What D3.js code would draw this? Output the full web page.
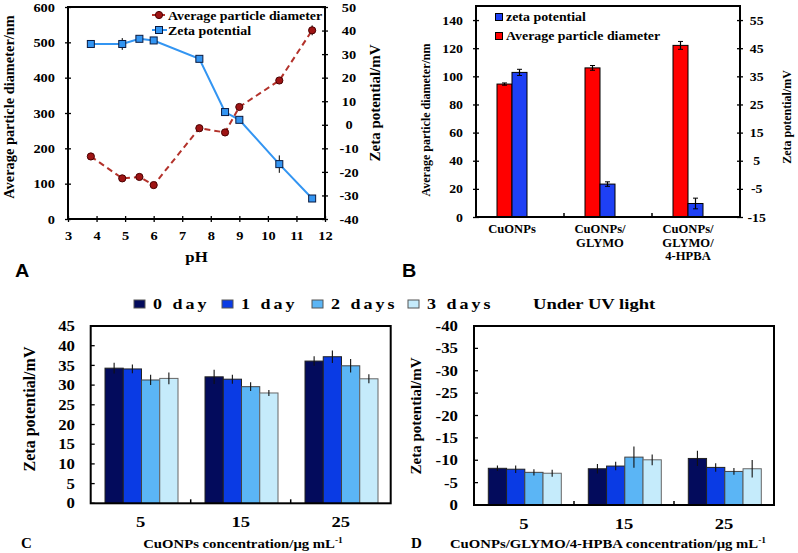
<!DOCTYPE html>
<html><head><meta charset="utf-8">
<script src="https://cdn.jsdelivr.net/npm/d3@7"></script>
<style>
body{margin:0;background:#fff}
svg{display:block}
text{font-family:"Liberation Serif","Times New Roman",serif;font-weight:bold;fill:#000}
</style></head><body>
<svg id="c" width="798" height="553"></svg>
<script>
// ---------- DATA ----------
// Panel A
const pH = [3.8, 4.9, 5.5, 6.0, 7.6, 8.5, 9.0, 10.4, 11.55];
const diameterA = [177, 115, 119, 96, 257, 245, 317, 392, 534];
const diameterErrA = [0, 0, 0, 0, 0, 0, 0, 0, 14];
const zetaA = [34.3, 34.3, 36.5, 35.8, 28, 5.4, 2.1, -16.7, -31.3];
const zetaErrA = [0, 2.5, 0, 0, 0, 0, 0, 3.7, 0];
const ticksApH = [3, 4, 5, 6, 7, 8, 9, 10, 11, 12];
const ticksAL = [0, 100, 200, 300, 400, 500, 600];
const ticksAR = [-40, -30, -20, -10, 0, 10, 20, 30, 40, 50];
const legendA = ["Average particle diameter", "Zeta potential"];
// Panel B
const samplesB = [["CuONPs"], ["CuONPs/", "GLYMO"], ["CuONPs/", "GLYMO/", "4-HPBA"]];
const diameterB = [94.5, 106, 122];
const diameterErrB = [0.8, 1.7, 2.8];
const zetaB = [36.4, -3.3, -10.2];
const zetaErrB = [1.1, 0.8, 1.9];
const ticksBL = [0, 20, 40, 60, 80, 100, 120, 140];
const ticksBR = [-15, -5, 5, 15, 25, 35, 45, 55];
const legendB = ["zeta potential", "Average particle diameter"];
// Panels C and D
const concentrations = ["5", "15", "25"];
const dayLabels = ["0 day", "1 day", "2 days", "3 days"];
const zetaC = [[34.3, 34.1, 31.3, 31.7], [32.1, 31.5, 29.6, 28.0], [36.1, 37.2, 34.9, 31.6]];
const zetaErrC = [[1.35, 1.1, 1.3, 1.5], [1.8, 1.15, 1.1, 0.75], [1.2, 1.6, 1.7, 1.15]];
const zetaD = [[-8.2, -8.0, -7.3, -7.1], [-8.1, -8.7, -10.7, -10.1], [-10.4, -8.4, -7.5, -8.1]];
const zetaErrD = [[0.6, 0.85, 0.7, 0.8], [1.05, 0.95, 2.4, 1.2], [1.7, 0.95, 0.75, 1.95]];
const ticksC = [0, 5, 10, 15, 20, 25, 30, 35, 40, 45];
const ticksD = [0, -5, -10, -15, -20, -25, -30, -35, -40];

// ---------- STYLE ----------
const SX = 1.2;
const blueA = "#3395f2", redA = "#b3322b", redDot = "#9e1414";
const redB = "#ff0000", blueB = "#1e40f5";
const dayColors = ["#030b5c", "#0a3be4", "#5bb5f5", "#c5ebfb"];
const dayStroke = ["#222", "#222", "#444", "#666"];
const svg = d3.select("#c");
const fmt = d => String(d);

function label(g, x, y, str, o = {}) {
  const t = g.append("text")
    .attr("transform", `translate(${x},${y}) scale(${o.sx ?? SX},1)`)
    .attr("text-anchor", o.anchor || "start")
    .style("font-size", (o.size || 12) + "px")
    .text(str);
  if (o.family) t.style("font-family", o.family);
  if (o.ls) t.style("letter-spacing", o.ls + "px");
  return t;
}
function vlabel(g, x, y, str, size) {
  return g.append("text")
    .attr("transform", `translate(${x},${y}) rotate(-90)`)
    .attr("text-anchor", "middle")
    .style("font-size", size + "px")
    .text(str);
}
function styleTicks(g, dx, dy, anchor, size, x1) {
  g.select(".domain").remove();
  g.selectAll(".tick line").attr("stroke", "#000").attr("stroke-width", 1.3);
  if (x1 !== undefined) g.selectAll(".tick line").attr(x1[0], x1[1]);
  g.selectAll(".tick text")
    .attr("x", null).attr("y", null).attr("dy", null)
    .attr("transform", `translate(${dx},${dy}) scale(${SX},1)`)
    .attr("text-anchor", anchor)
    .style("font-size", size + "px")
    .style("font-family", '"Liberation Serif","Times New Roman",serif')
    .style("font-weight", "bold")
    .attr("fill", "#000");
}
function frame(l, t, r, b) {
  svg.append("rect").attr("x", l).attr("y", t).attr("width", r - l).attr("height", b - t)
    .attr("fill", "none").attr("stroke", "#000").attr("stroke-width", 2);
}

// ---------- PANEL A ----------
{
  const L = 68, R = 325, T = 7, B = 219;
  const x = d3.scaleLinear().domain([3, 12]).range([L, R]);
  const yL = d3.scaleLinear().domain([0, 600]).range([B, T]);
  const yR = d3.scaleLinear().domain([-40, 50]).range([B, T]);
  const g = svg.append("g");

  const gl = g.append("g").attr("transform", `translate(${L},0)`)
    .call(d3.axisLeft(yL).tickValues(ticksAL).tickFormat(fmt).tickSize(3).tickSizeOuter(0));
  styleTicks(gl, -13, 4.2, "end", 12, ["x1", 3]);
  const gr = g.append("g").attr("transform", `translate(${R},0)`)
    .call(d3.axisRight(yR).tickValues(ticksAR).tickFormat(fmt).tickSize(3).tickSizeOuter(0));
  styleTicks(gr, 24, 4.2, "middle", 12, ["x1", -3]);
  const gb = g.append("g").attr("transform", `translate(0,${B})`)
    .call(d3.axisBottom(x).tickValues(ticksApH).tickFormat(fmt).tickSize(3).tickSizeOuter(0));
  styleTicks(gb, 0, 21, "middle", 12, ["y1", -3]);
  frame(L, T, R, B);

  const pts = pH.map((p, i) => ({p, d: diameterA[i], de: diameterErrA[i], z: zetaA[i], ze: zetaErrA[i]}));
  g.append("path").datum(pts).attr("fill", "none").attr("stroke", blueA).attr("stroke-width", 2)
    .attr("d", d3.line().x(d => x(d.p)).y(d => yR(d.z)));
  g.append("path").datum(pts).attr("fill", "none").attr("stroke", redA).attr("stroke-width", 2)
    .attr("stroke-dasharray", "6,4")
    .attr("d", d3.line().x(d => x(d.p)).y(d => yL(d.d)));
  g.selectAll(".ez").data(pts.filter(d => d.ze > 0)).join("line")
    .attr("x1", d => x(d.p)).attr("x2", d => x(d.p))
    .attr("y1", d => yR(d.z - d.ze)).attr("y2", d => yR(d.z + d.ze))
    .attr("stroke", "#000").attr("stroke-width", 1);
  g.selectAll(".ed").data(pts.filter(d => d.de > 0)).join("line")
    .attr("x1", d => x(d.p)).attr("x2", d => x(d.p))
    .attr("y1", d => yL(d.d - d.de)).attr("y2", d => yL(d.d + d.de))
    .attr("stroke", "#000").attr("stroke-width", 1);
  g.selectAll(".sq").data(pts).join("rect")
    .attr("x", d => x(d.p) - 3.5).attr("y", d => yR(d.z) - 3.5).attr("width", 7).attr("height", 7)
    .attr("fill", blueA).attr("stroke", "#0a1a40").attr("stroke-width", 1);
  g.selectAll(".ci").data(pts).join("circle")
    .attr("cx", d => x(d.p)).attr("cy", d => yL(d.d)).attr("r", 3.6)
    .attr("fill", redDot).attr("stroke", "#4a0000").attr("stroke-width", 1);

  // legend
  g.append("line").attr("x1", 152).attr("x2", 167).attr("y1", 15).attr("y2", 15)
    .attr("stroke", redA).attr("stroke-width", 2).attr("stroke-dasharray", "5,3");
  g.append("circle").attr("cx", 159).attr("cy", 15).attr("r", 3.6).attr("fill", redDot).attr("stroke", "#4a0000");
  label(g, 168, 19.5, legendA[0], {size: 11.6});
  g.append("line").attr("x1", 152).attr("x2", 167).attr("y1", 30).attr("y2", 30)
    .attr("stroke", blueA).attr("stroke-width", 2);
  g.append("rect").attr("x", 155.5).attr("y", 26.5).attr("width", 7).attr("height", 7)
    .attr("fill", blueA).attr("stroke", "#0a1a40");
  label(g, 168, 34.5, legendA[1], {size: 11.6});

  vlabel(g, 14, 107, "Average particle diameter/nm", 14.4);
  vlabel(g, 380, 103, "Zeta potential/mV", 15);
  label(g, 196.5, 262, "pH", {size: 14, anchor: "middle"});
  label(g, 15, 276.5, "A", {size: 18, sx: 1.1, family: '"Liberation Sans",Arial,sans-serif'});
}

// ---------- PANEL B ----------
{
  const L = 476, R = 740, T = 6, B = 217;
  const x = d3.scaleBand().domain(d3.range(samplesB.length)).range([L, R]);
  const xs = d3.scaleBand().domain(["d", "z"]).range([21, 51]);
  const yL = d3.scaleLinear().domain([0, 150]).range([B, T]);
  const yR = d3.scaleLinear().domain([-15, 60]).range([B, T]);
  const g = svg.append("g");

  const gl = g.append("g").attr("transform", `translate(${L},0)`)
    .call(d3.axisLeft(yL).tickValues(ticksBL).tickFormat(fmt).tickSize(3).tickSizeOuter(0));
  styleTicks(gl, -13, 4, "end", 11.5, ["x1", 3]);
  const gr = g.append("g").attr("transform", `translate(${R},0)`)
    .call(d3.axisRight(yR).tickValues(ticksBR).tickFormat(fmt).tickSize(3).tickSizeOuter(0));
  styleTicks(gr, 16.7, 4, "middle", 11.5, ["x1", -3]);

  const data = samplesB.map((s, i) => ({i, s, d: diameterB[i], de: diameterErrB[i], z: zetaB[i], ze: zetaErrB[i]}));
  g.selectAll(".bd").data(data).join("rect")
    .attr("x", d => x(d.i) + xs("d")).attr("width", xs.bandwidth())
    .attr("y", d => yL(d.d)).attr("height", d => yL(0) - yL(d.d))
    .attr("fill", redB).attr("stroke", "#000").attr("stroke-width", 1);
  g.selectAll(".bz").data(data).join("rect")
    .attr("x", d => x(d.i) + xs("z")).attr("width", xs.bandwidth())
    .attr("y", d => yR(d.z)).attr("height", d => yR(-15) - yR(d.z))
    .attr("fill", blueB).attr("stroke", "#000").attr("stroke-width", 1);
  const eb = (cx, y1, y2) => {
    g.append("line").attr("x1", cx).attr("x2", cx).attr("y1", y1).attr("y2", y2).attr("stroke", "#000").attr("stroke-width", 1.2);
    [y1, y2].forEach(yy => g.append("line").attr("x1", cx - 2.5).attr("x2", cx + 2.5).attr("y1", yy).attr("y2", yy).attr("stroke", "#000").attr("stroke-width", 1));
  };
  data.forEach(d => {
    eb(x(d.i) + xs("d") + xs.bandwidth() / 2, yL(d.d - d.de), yL(d.d + d.de));
    eb(x(d.i) + xs("z") + xs.bandwidth() / 2, yR(d.z - d.ze), yR(d.z + d.ze));
  });
  g.selectAll(".bt").data(d3.range(1, samplesB.length)).join("line")
    .attr("x1", d => x(d)).attr("x2", d => x(d)).attr("y1", B).attr("y2", B - 4)
    .attr("stroke", "#000").attr("stroke-width", 1.5);
  frame(L, T, R, B);

  data.forEach(d => {
    const cx = x(d.i) + xs("z");
    d.s.forEach((line, k) => label(g, cx, 233 + k * 13.5, line, {size: 12, anchor: "middle", sx: 1.05}));
  });

  g.append("rect").attr("x", 495.5).attr("y", 13.5).attr("width", 7).attr("height", 7).attr("fill", blueB).attr("stroke", "#000");
  label(g, 506, 21, legendB[0], {size: 11.6});
  g.append("rect").attr("x", 495.5).attr("y", 32.5).attr("width", 7).attr("height", 7).attr("fill", redB).attr("stroke", "#000");
  label(g, 506, 40, legendB[1], {size: 11.6});

  vlabel(g, 429.5, 120, "Average particle diameter/nm", 12);
  vlabel(g, 790.5, 117, "Zeta potential/mV", 12);
  label(g, 402, 276.5, "B", {size: 18, sx: 1.1, family: '"Liberation Sans",Arial,sans-serif'});
}

// ---------- PANELS C & D ----------
function barPanel(L, R, T, B, yDomain, ticks, values, errs, lblDx, titleX, titleY, titleSize, xTitle, xTitleX, letter, letterX) {
  const x = d3.scaleBand().domain(concentrations).range([L, R]);
  const xs = d3.scaleBand().domain(dayLabels).range([14.3, 87.3]);
  const y = d3.scaleLinear().domain(yDomain).range([B, T]);
  const g = svg.append("g");
  const gl = g.append("g").attr("transform", `translate(${L},0)`)
    .call(d3.axisLeft(y).tickValues(ticks).tickFormat(fmt).tickSize(0).tickSizeOuter(0));
  styleTicks(gl, lblDx, 4.6, "end", 14);
  g.selectAll(".yt").data(ticks).join("line")
    .attr("x1", L).attr("x2", L + 4).attr("y1", d => y(d)).attr("y2", d => y(d))
    .attr("stroke", "#000").attr("stroke-width", 1.3);
  const gb = g.append("g").attr("transform", `translate(0,${B})`)
    .call(d3.axisBottom(x).tickSize(0).tickSizeOuter(0));
  styleTicks(gb, 0, 24, "middle", 15.5);

  const flat = [];
  values.forEach((row, ci) => row.forEach((v, di) => flat.push({c: concentrations[ci], day: dayLabels[di], di, v, e: errs[ci][di]})));
  g.selectAll(".bar").data(flat).join("rect")
    .attr("x", d => x(d.c) + xs(d.day)).attr("width", xs.bandwidth())
    .attr("y", d => Math.min(y(d.v), y(0))).attr("height", d => Math.abs(y(0) - y(d.v)))
    .attr("fill", d => dayColors[d.di]).attr("stroke", d => dayStroke[d.di]).attr("stroke-width", 1);
  g.selectAll(".err").data(flat).join("line")
    .attr("x1", d => x(d.c) + xs(d.day) + xs.bandwidth() / 2).attr("x2", d => x(d.c) + xs(d.day) + xs.bandwidth() / 2)
    .attr("y1", d => y(d.v - d.e)).attr("y2", d => y(d.v + d.e))
    .attr("stroke", "#111").attr("stroke-width", 1.1);
  g.selectAll(".bt").data(concentrations.slice(1)).join("line")
    .attr("x1", d => x(d)).attr("x2", d => x(d)).attr("y1", B).attr("y2", B - 4)
    .attr("stroke", "#000").attr("stroke-width", 1.5);
  frame(L, T, R, B);

  vlabel(g, titleX, titleY, "Zeta potential/mV", titleSize);
  const t = label(g, xTitleX, 548, xTitle, {size: 12.5, anchor: "middle", sx: 1.18});
  t.append("tspan").attr("dy", -5).style("font-size", "8px").text("-1");
  label(g, letterX, 548, letter, {size: 15, sx: 1.0});
}
barPanel(90.7, 390.7, 326, 503.3, [0, 45], ticksC, zetaC, zetaErrC, -15.7, 35, 409, 16,
  "CuONPs concentration/μg mL", 243, "C", 21);
barPanel(474, 774, 326, 505, [0, -40], ticksD, zetaD, zetaErrD, -16, 421, 416, 15,
  "CuONPs/GLYMO/4-HPBA concentration/μg mL", 608, "D", 411);

// shared legend
{
  const g = svg.append("g");
  const lx = [134, 222, 312, 408];
  dayLabels.forEach((d, i) => {
    g.append("rect").attr("x", lx[i]).attr("y", 300).attr("width", 11).attr("height", 8)
      .attr("fill", dayColors[i]).attr("stroke", "#555").attr("stroke-width", 1);
    label(g, lx[i] + 19, 309, d, {size: 15, ls: 2.5});
  });
  label(g, 533, 309, "Under UV light", {size: 15.5});
}
</script>
</body></html>
